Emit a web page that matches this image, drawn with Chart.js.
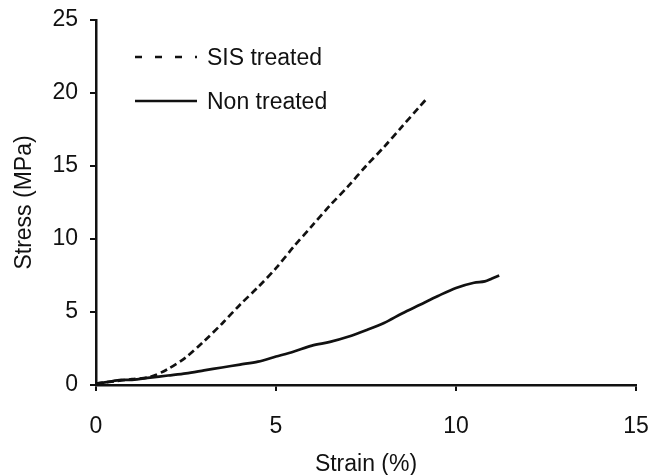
<!DOCTYPE html>
<html>
<head>
<meta charset="utf-8">
<script src="https://cdn.jsdelivr.net/npm/chart.js@4"></script>
<style>
  html, body { margin: 0; padding: 0; background: #fff; }
  #wrap { width: 652px; height: 475px; position: relative; }
</style>
</head>
<body>
<div id="wrap"><canvas id="stressChart"></canvas></div>
<script>
// --- Data ---
const sisStrain = [0, 0.5, 1.0, 1.5, 2.0, 2.5, 3.0, 3.5, 4.0, 4.5, 5.0, 5.5, 6.0, 6.5, 7.0, 7.5, 8.0, 8.5, 9.0, 9.22];
const sisStress = [0.1, 0.25, 0.4, 0.55, 1.1, 1.9, 3.0, 4.2, 5.5, 6.7, 8.0, 9.5, 10.9, 12.3, 13.6, 15.0, 16.3, 17.7, 19.1, 19.7];

const nonStrain = [0, 0.3, 0.7, 1.0, 1.5, 2.0, 2.5, 3.0, 3.5, 4.0, 4.5, 5.0, 5.5, 6.0, 6.5, 7.0, 7.5, 8.0, 8.5, 9.0, 9.5, 10.0, 10.5, 10.8, 11.0, 11.2];
const nonStress = [0.1, 0.2, 0.35, 0.35, 0.5, 0.65, 0.8, 1.0, 1.2, 1.4, 1.6, 1.95, 2.3, 2.7, 2.95, 3.3, 3.75, 4.25, 4.9, 5.5, 6.1, 6.65, 7.0, 7.1, 7.3, 7.5];

const xTicks = [0, 5, 10, 15];
const yTicks = [0, 5, 10, 15, 20, 25];

const FONT = 'Liberation Sans, Arial, sans-serif';
const FSIZE = 23;

const toPoints = (xs, ys) => xs.map((x, i) => ({ x: x, y: ys[i] }));

// Legend drawn inside the plot, top-left
const insideLegend = {
    id: 'insideLegend',
    afterDraw(chart) {
        const ctx = chart.ctx;
        const left = chart.chartArea.left;
        const top = chart.chartArea.top;
        ctx.save();
        chart.data.datasets.forEach((ds, i) => {
            const y = top + 37 + i * 44;
            ctx.beginPath();
            ctx.strokeStyle = '#111';
            ctx.lineWidth = 2.5;
            ctx.setLineDash(ds.borderDash && ds.borderDash.length ? [7, 13] : []);
            ctx.moveTo(left + 39, y);
            ctx.lineTo(left + 101, y);
            ctx.stroke();
            ctx.setLineDash([]);
            ctx.fillStyle = '#111';
            ctx.font = FSIZE + 'px ' + FONT;
            ctx.textBaseline = 'middle';
            ctx.fillText(ds.label, left + 111, y + 2);
        });
        ctx.restore();
    }
};

const ctx = document.getElementById('stressChart').getContext('2d');
new Chart(ctx, {
    type: 'scatter',
    data: {
        datasets: [
            {
                label: 'SIS treated',
                data: toPoints(sisStrain, sisStress),
                showLine: true,
                borderColor: '#111',
                borderWidth: 2.7,
                borderDash: [7, 4],
                pointRadius: 0,
                tension: 0.3
            },
            {
                label: 'Non treated',
                data: toPoints(nonStrain, nonStress),
                showLine: true,
                borderColor: '#111',
                borderWidth: 2.7,
                pointRadius: 0,
                tension: 0.3
            }
        ]
    },
    options: {
        responsive: true,
        maintainAspectRatio: false,
        animation: false,
        layout: { padding: { top: 20, right: 16, left: 0, bottom: 0 } },
        plugins: {
            legend: { display: false },
            tooltip: { enabled: false }
        },
        scales: {
            x: {
                type: 'linear',
                min: 0, max: 15,
                afterBuildTicks: s => { s.ticks = xTicks.map(v => ({ value: v })); },
                afterFit: s => { s.height = 90; s.paddingLeft = 0; s.paddingRight = 0; },
                grid: { display: true, drawOnChartArea: false, drawTicks: true, tickLength: 6, color: '#111', lineWidth: 2 },
                border: { display: true, color: '#111', width: 2.5 },
                ticks: { color: '#111', padding: 22, font: { family: FONT, size: FSIZE }, maxRotation: 0 },
                title: { display: true, text: 'Strain (%)', color: '#111', font: { family: FONT, size: FSIZE }, padding: { top: 0, bottom: -3 } }
            },
            y: {
                type: 'linear',
                min: 0, max: 25,
                afterBuildTicks: s => { s.ticks = yTicks.map(v => ({ value: v })); },
                afterFit: s => { s.width = 96; s.paddingTop = 0; s.paddingBottom = 0; },
                grid: { display: true, drawOnChartArea: false, drawTicks: true, tickLength: 6, color: '#111', lineWidth: 2 },
                border: { display: true, color: '#111', width: 2.5 },
                ticks: { color: '#111', padding: 12, font: { family: FONT, size: FSIZE } },
                title: { display: true, text: 'Stress (MPa)', color: '#111', font: { family: FONT, size: FSIZE }, padding: { top: 11, bottom: 4 } }
            }
        }
    },
    plugins: [insideLegend]
});
</script>
</body>
</html>
